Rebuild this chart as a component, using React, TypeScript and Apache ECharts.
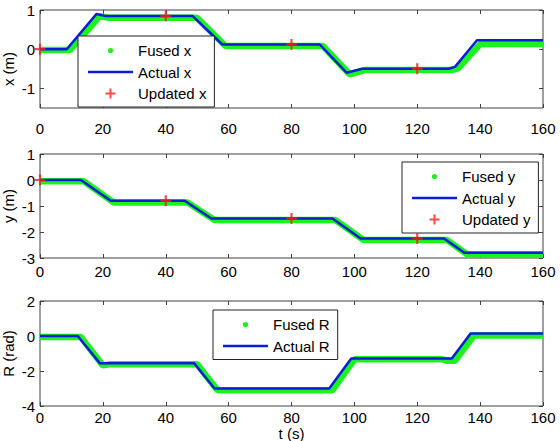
import React, { useEffect, useRef } from "react";
import * as echarts from "echarts";

// Time axis ticks (s)
const timeTicks = [0, 20, 40, 60, 80, 100, 120, 140, 160];

// x position traces: breakpoints [t, value]
const xActualT = [0, 8.5, 18, 20.5, 48.5, 58, 89, 97.5, 102.5, 130, 132, 139, 160];
const xActualV = [0, 0, 0.9, 0.85, 0.85, 0.12, 0.12, -0.6, -0.5, -0.5, -0.45, 0.23, 0.23];
const xFusedT = [0, 9.5, 19, 22, 50, 59, 90, 98.5, 103.5, 131, 133, 140, 160];
const xFusedV = [-0.02, -0.02, 0.84, 0.8, 0.8, 0.08, 0.08, -0.64, -0.53, -0.53, -0.49, 0.13, 0.13];
const xUpdatedT = [0, 40, 80, 120];
const xUpdatedV = [0, 0.85, 0.12, -0.5];

// y position traces
const yActualT = [0, 13, 22.5, 46, 54.5, 93, 102, 128.5, 135, 160];
const yActualV = [0, 0, -0.8, -0.8, -1.48, -1.48, -2.25, -2.25, -2.8, -2.8];
const yFusedT = [0, 14, 23.5, 47, 55.5, 94, 103, 129.5, 136, 160];
const yFusedV = [-0.05, -0.05, -0.87, -0.87, -1.54, -1.54, -2.31, -2.31, -2.87, -2.87];
const yUpdatedT = [0, 40, 80, 120];
const yUpdatedV = [0, -0.8, -1.48, -2.25];

// heading traces
const rActualT = [0, 12, 19, 49, 55.5, 92, 99, 131, 137, 160];
const rActualV = [0, 0, -1.55, -1.55, -3.0, -3.0, -1.28, -1.28, 0.15, 0.15];
const rFusedT = [0, 13, 20, 22, 50, 56.5, 93, 100, 128, 129.5, 132, 138, 160];
const rFusedV = [-0.05, -0.05, -1.68, -1.62, -1.62, -3.1, -3.1, -1.33, -1.33, -1.42, -1.42, 0.03, 0.03];

// y-axis tick values
const xPosTicks = [-1, 0, 1];
const yPosTicks = [-3, -2, -1, 0, 1];
const rTicks = [-4, -2, 0, 2];

const FONT = "'Liberation Sans', Arial, Helvetica, sans-serif";
const AXIS_COLOR = "#404040";
const GREEN = "#1ef21e";
const BLUE = "#0a1ed8";
const RED = "#ff1a1a";

const PLUS = "path://M4 0H6V4H10V6H6V10H4V6H0V4H4Z";
const DOT = "path://M0 0L0 0M10 10L10 10M2.4 5A2.6 2.6 0 1 1 7.6 5A2.6 2.6 0 1 1 2.4 5Z";
const BAR = "path://M0 0H18V1H0Z";

const zip = (t: number[], v: number[]) => t.map((ti, i) => [ti, v[i]]);

function xAxisPair(gi: number, margin: number, name?: string) {
  const base = {
    type: "value" as const,
    gridIndex: gi,
    min: timeTicks[0],
    max: timeTicks[timeTicks.length - 1],
    interval: timeTicks[1] - timeTicks[0],
    axisLine: { show: false, onZero: false },
    axisTick: { show: true, inside: true, length: 4, lineStyle: { color: AXIS_COLOR } },
    splitLine: { show: false },
  };
  return [
    {
      ...base,
      position: "bottom",
      axisLabel: { show: true, margin, fontSize: 15, color: "#000", fontFamily: FONT },
      name: name || "",
      nameLocation: "middle",
      nameGap: 20,
      nameMoveOverlap: false,
      nameTextStyle: { fontSize: 15, color: "#000", fontFamily: FONT },
    },
    { ...base, position: "top", axisLabel: { show: false } },
  ];
}

function yAxisPair(gi: number, ticks: number[], min: number, max: number, name: string, namePad: number[]) {
  const base = {
    type: "value" as const,
    gridIndex: gi,
    min,
    max,
    axisLine: { show: false, onZero: false },
    axisTick: { show: true, inside: true, length: 4, customValues: ticks, lineStyle: { color: AXIS_COLOR } },
    splitLine: { show: false },
  };
  return [
    {
      ...base,
      position: "left",
      axisLabel: { show: true, margin: 5, customValues: ticks, fontSize: 15, color: "#000", fontFamily: FONT },
      name,
      nameLocation: "middle",
      nameRotate: 90,
      nameGap: 24,
      nameMoveOverlap: false,
      nameTextStyle: { fontSize: 15, color: "#000", fontFamily: FONT, padding: namePad },
    },
    { ...base, position: "right", axisLabel: { show: false } },
  ];
}

function legendFor(names: string[], left: number, top: number) {
  return {
    data: names.map((n, i) =>
      i === 0
        ? { name: n, icon: DOT, itemStyle: { borderWidth: 0 } }
        : i === 1
        ? { name: n, icon: BAR, itemStyle: { borderWidth: 0 } }
        : { name: n }
    ),
    left,
    top,
    orient: "vertical",
    itemWidth: 45,
    itemHeight: 10,
    itemGap: 6.5,
    padding: [7, 8, 6, 10],
    borderColor: "#222",
    borderWidth: 1,
    backgroundColor: "#fff",
    selectedMode: false,
    textStyle: { fontSize: 15, color: "#000", fontFamily: FONT },
  };
}

function traces(gi: number, label: string, fused: number[][], actual: number[][], updated?: number[][]) {
  const list: any[] = [
    {
      name: "Fused " + label,
      type: "line",
      xAxisIndex: gi * 2,
      yAxisIndex: gi * 2,
      data: fused,
      symbol: "none",
      clip: false,
      lineStyle: { color: GREEN, width: 6.5 },
      itemStyle: { color: GREEN },
      z: 2,
    },
    {
      name: "Actual " + label,
      type: "line",
      xAxisIndex: gi * 2,
      yAxisIndex: gi * 2,
      data: actual,
      symbol: "none",
      clip: false,
      lineStyle: { color: BLUE, width: 2.5 },
      itemStyle: { color: BLUE },
      z: 3,
    },
  ];
  if (updated) {
    list.push({
      name: "Updated " + label,
      type: "scatter",
      xAxisIndex: gi * 2,
      yAxisIndex: gi * 2,
      data: updated,
      symbol: PLUS,
      symbolSize: 11,
      clip: false,
      itemStyle: { color: RED },
      z: 4,
    });
  }
  return list;
}

export default function App() {
  const ref = useRef<HTMLDivElement>(null);

  useEffect(() => {
    if (!ref.current) return;
    const chart = echarts.init(ref.current, undefined, { renderer: "svg" });
    const gridBase = {
      left: 40,
      width: 503,
      show: true,
      borderColor: AXIS_COLOR,
      borderWidth: 1,
      backgroundColor: "transparent",
      containLabel: false,
      outerBoundsMode: "none",
    };
    chart.setOption({
      animation: false,
      backgroundColor: "#fff",
      grid: [
        { ...gridBase, top: 10, height: 98 },
        { ...gridBase, top: 154, height: 104 },
        { ...gridBase, top: 301, height: 105 },
      ],
      xAxis: [...xAxisPair(0, 13), ...xAxisPair(1, 6), ...xAxisPair(2, 4, "t (s)")],
      yAxis: [
        ...yAxisPair(0, xPosTicks, -1.5, 1, "x (m)", [0, 20, 0, 0]),
        ...yAxisPair(1, yPosTicks, -3, 1, "y (m)", [0, 0, 0, 0]),
        ...yAxisPair(2, rTicks, -4, 2, "R (rad)", [0, 0, 0, 0]),
      ],
      legend: [
        legendFor(["Fused x", "Actual x", "Updated x"], 78, 36),
        legendFor(["Fused y", "Actual y", "Updated y"], 402, 162),
        legendFor(["Fused R", "Actual R"], 213, 310),
      ],
      series: [
        ...traces(0, "x", zip(xFusedT, xFusedV), zip(xActualT, xActualV), zip(xUpdatedT, xUpdatedV)),
        ...traces(1, "y", zip(yFusedT, yFusedV), zip(yActualT, yActualV), zip(yUpdatedT, yUpdatedV)),
        ...traces(2, "R", zip(rFusedT, rFusedV), zip(rActualT, rActualV)),
      ],
    });
    return () => chart.dispose();
  }, []);

  return (
    <div
      ref={ref}
      style={{ position: "fixed", left: 0, top: 0, width: 560, height: 441, background: "#fff" }}
    />
  );
}
